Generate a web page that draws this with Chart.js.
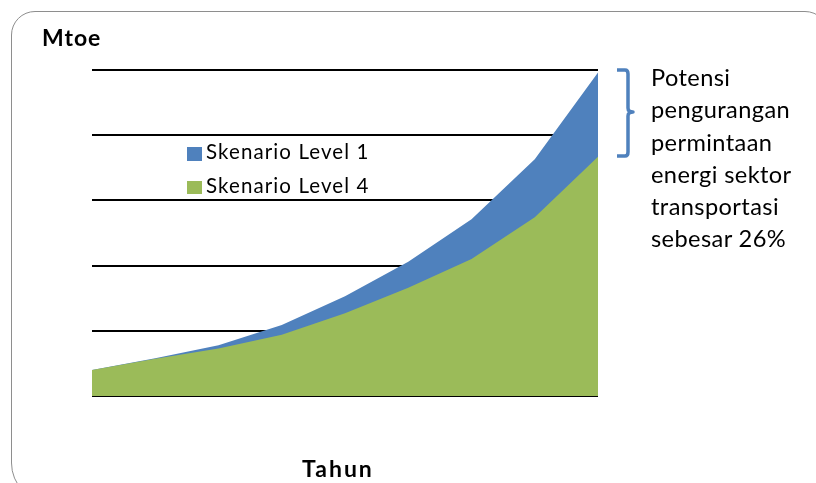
<!DOCTYPE html>
<html>
<head>
<meta charset="utf-8">
<script src="https://cdn.jsdelivr.net/npm/chart.js@4/dist/chart.umd.min.js"></script>
<style>
  html, body { margin: 0; padding: 0; background: #fff; overflow: hidden; }
  #wrap { position: relative; width: 816px; height: 483px; overflow: hidden; font-family: Lato, "Open Sans", sans-serif; }
  #frame { position: absolute; left: 11px; top: 11px; width: 818px; height: 492px; border: 1.5px solid #8e8e8e; border-radius: 24px 24px 40px 40px; box-sizing: border-box; }
  canvas { position: absolute; left: 0; top: 0; }
  .t { position: absolute; color: #000; white-space: nowrap; }
  #ytitle { left: 42px; top: 23px; font-weight: bold; font-size: 23px; letter-spacing: 1px; }
  #xtitle { left: 302px; top: 454px; font-weight: bold; font-size: 23px; letter-spacing: 2px; }
  #note { left: 651px; top: 61px; font-size: 23.6px; line-height: 32.3px; letter-spacing: 0.4px; }
  .lg { position: absolute; font-size: 20.5px; color: #000; white-space: nowrap; letter-spacing: 1.1px; }
  .sw { position: absolute; width: 15px; height: 13.5px; }
  #bracket { position: absolute; left: 0; top: 0; }
</style>
</head>
<body>
<div id="wrap">
  <div id="frame"></div>
  <canvas id="c" width="816" height="483"></canvas>
  <div class="t" id="ytitle">Mtoe</div>
  <div class="t" id="xtitle">Tahun</div>
  <div class="t" id="note">Potensi<br>pengurangan<br>permintaan<br>energi sektor<br>transportasi<br>sebesar 26%</div>
  <div id="legend"></div>
  <svg id="bracket" width="816" height="483">
    <path d="M617 70 L625 70 Q628 70 628 74 L628 108 Q628 112 633 112 Q628 112 628 116 L628 152 Q628 156 625 156 L617 156" fill="none" stroke="#4F81BD" stroke-width="3.5" stroke-linejoin="round"/>
  </svg>
</div>
<script>
// Data (Mtoe, approximate)
const categories = ['1', '2', '3', '4', '5', '6', '7', '8', '9'];
const level1 = [40, 58, 78, 109, 153, 206, 271, 363, 496];
const level4 = [40, 57, 73, 94, 127, 166, 210, 274, 367];
const seriesNames = ['Skenario Level 1', 'Skenario Level 4'];
const yTicks = [0, 100, 200, 300, 400, 500];

const colors = ['#4F81BD', '#9BBB59'];

// HTML legend
const lg = document.getElementById('legend');
seriesNames.forEach((n, i) => {
  const sw = document.createElement('div');
  sw.className = 'sw';
  sw.style.left = '187px';
  sw.style.top = (147 + i * 33.5) + 'px';
  sw.style.background = colors[i];
  lg.appendChild(sw);
  const tx = document.createElement('div');
  tx.className = 'lg';
  tx.style.left = '206px';
  tx.style.top = (139 + i * 34) + 'px';
  tx.textContent = n;
  lg.appendChild(tx);
});

new Chart(document.getElementById('c'), {
  type: 'line',
  data: {
    labels: categories,
    datasets: [
      { label: seriesNames[0], data: level1, backgroundColor: colors[0], borderWidth: 0, pointRadius: 0, fill: 'origin', order: 1 },
      { label: seriesNames[1], data: level4, backgroundColor: colors[1], borderWidth: 0, pointRadius: 0, fill: 'origin', order: 0 }
    ]
  },
  options: {
    responsive: false,
    animation: false,
    layout: { padding: { left: 92, right: 218, top: 70, bottom: 87 } },
    plugins: { legend: { display: false }, tooltip: { enabled: false } },
    elements: { line: { tension: 0 } },
    scales: {
      x: { display: false, offset: false },
      y: {
        min: 0, max: 500,
        afterBuildTicks: s => { s.ticks = yTicks.map(v => ({ value: v })); },
        ticks: { display: false },
        border: { display: false },
        grid: { color: '#000', lineWidth: 2, drawTicks: false }
      }
    }
  }
});
</script>
</body>
</html>
